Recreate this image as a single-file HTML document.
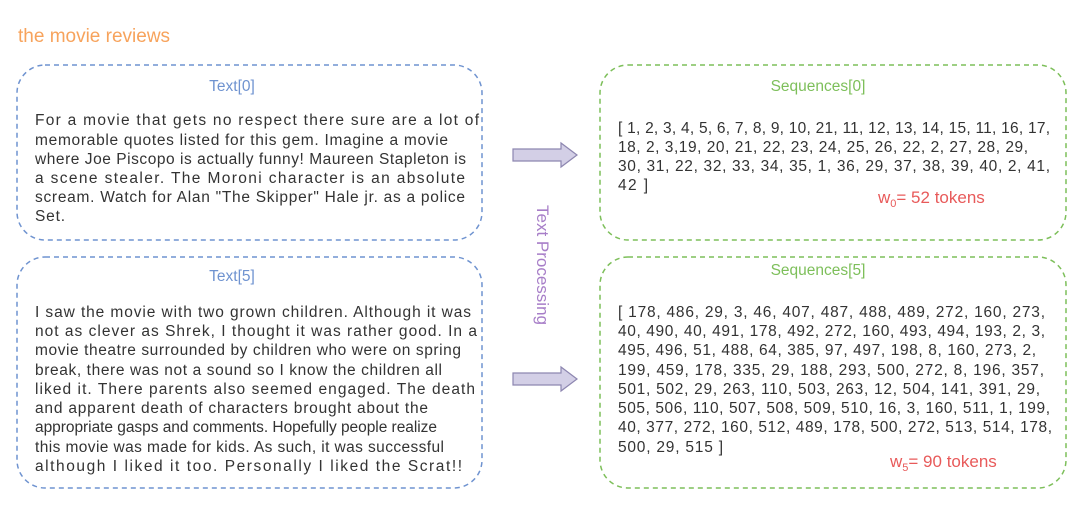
<!DOCTYPE html>
<html><head><meta charset="utf-8"><style>
html,body{margin:0;padding:0;background:#fff;}
svg{display:block;font-family:"Comic Sans MS","Liberation Sans",sans-serif;}
.t{font-size:15.5px;fill:#333;}
</style></head><body>
<svg width="1082" height="521" viewBox="0 0 1082 521">
<text x="18" y="42" font-size="19" fill="#f7a35c">the movie reviews</text>
<g fill="none" stroke-width="1.5" stroke-dasharray="5,4">
<rect x="17" y="65" width="465" height="175" rx="28" stroke="#6f93d0"/>
<rect x="17" y="257" width="465" height="231" rx="28" stroke="#6f93d0"/>
<rect x="600" y="65" width="466" height="175" rx="28" stroke="#7dbf5a"/>
<rect x="600" y="257" width="466" height="231" rx="28" stroke="#7dbf5a"/>
</g>
<text x="232" y="91" font-size="15.5" fill="#6f93d0" text-anchor="middle">Text[0]</text>
<text x="232" y="281" font-size="15.5" fill="#6f93d0" text-anchor="middle">Text[5]</text>
<text x="818" y="91" font-size="15.5" fill="#7dbf5a" text-anchor="middle">Sequences[0]</text>
<text x="818" y="275" font-size="15.5" fill="#7dbf5a" text-anchor="middle">Sequences[5]</text>
<g class="t" lengthAdjust="spacingAndGlyphs">
<text x="35" y="125" textLength="444">For a movie that gets no respect there sure are a lot of</text>
<text x="35" y="145" textLength="413">memorable quotes listed for this gem. Imagine a movie</text>
<text x="35" y="164" textLength="431">where Joe Piscopo is actually funny! Maureen Stapleton is</text>
<text x="35" y="183" textLength="430">a scene stealer. The Moroni character is an absolute</text>
<text x="35" y="202" textLength="430">scream. Watch for Alan "The Skipper" Hale jr. as a police</text>
<text x="35" y="221" textLength="30">Set.</text>

<text x="35" y="317" textLength="436">I saw the movie with two grown children. Although it was</text>
<text x="35" y="336" textLength="442">not as clever as Shrek, I thought it was rather good. In a</text>
<text x="35" y="355" textLength="426">movie theatre surrounded by children who were on spring</text>
<text x="35" y="375" textLength="407">break, there was not a sound so I know the children all</text>
<text x="35" y="394" textLength="440">liked it. There parents also seemed engaged. The death</text>
<text x="35" y="413" textLength="393">and apparent death of characters brought about the</text>
<text x="35" y="432" textLength="402">appropriate gasps and comments. Hopefully people realize</text>
<text x="35" y="452" textLength="409">this movie was made for kids. As such, it was successful</text>
<text x="35" y="471" textLength="427">although I liked it too. Personally I liked the Scrat!!</text>

<text x="618" y="133" textLength="432">[ 1, 2, 3, 4, 5, 6, 7, 8, 9, 10, 21, 11, 12, 13, 14, 15, 11, 16, 17,</text>
<text x="618" y="152" textLength="410">18, 2, 3,19, 20, 21, 22, 23, 24, 25, 26, 22, 2, 27, 28, 29,</text>
<text x="618" y="171" textLength="432">30, 31, 22, 32, 33, 34, 35, 1, 36, 29, 37, 38, 39, 40, 2, 41,</text>
<text x="618" y="190" textLength="30">42 ]</text>

<text x="618" y="317" textLength="427">[ 178, 486, 29, 3, 46, 407, 487, 488, 489, 272, 160, 273,</text>
<text x="618" y="336" textLength="427">40, 490, 40, 491, 178, 492, 272, 160, 493, 494, 193, 2, 3,</text>
<text x="618" y="355" textLength="418">495, 496, 51, 488, 64, 385, 97, 497, 198, 8, 160, 273, 2,</text>
<text x="618" y="375" textLength="426">199, 459, 178, 335, 29, 188, 293, 500, 272, 8, 196, 357,</text>
<text x="618" y="394" textLength="422">501, 502, 29, 263, 110, 503, 263, 12, 504, 141, 391, 29,</text>
<text x="618" y="413" textLength="432">505, 506, 110, 507, 508, 509, 510, 16, 3, 160, 511, 1, 199,</text>
<text x="618" y="432" textLength="434">40, 377, 272, 160, 512, 489, 178, 500, 272, 513, 514, 178,</text>
<text x="618" y="452" textLength="105">500, 29, 515 ]</text>
</g>
<text x="878" y="203" font-size="17" fill="#e85a5a">w<tspan font-size="11" dy="4">0</tspan><tspan dy="-4">= 52 tokens</tspan></text>
<text x="890" y="467" font-size="17" fill="#e85a5a">w<tspan font-size="11" dy="4">5</tspan><tspan dy="-4">= 90 tokens</tspan></text>
<g fill="#d3cfe6" stroke="#8d86b0" stroke-width="1.2">
<polygon points="513,149 561,149 561,143 577,155 561,167 561,161 513,161"/>
<polygon points="513,373 561,373 561,367 577,379 561,391 561,385 513,385"/>
</g>
<text transform="translate(537,265) rotate(90)" font-size="17" fill="#a77ec8" text-anchor="middle">Text Processing</text>
</svg>
</body></html>
